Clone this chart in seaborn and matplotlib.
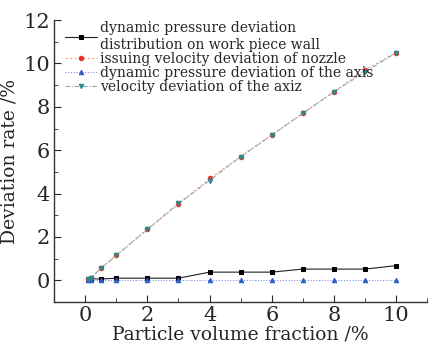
import numpy as np
import pandas as pd
import matplotlib
matplotlib.use('Agg')
import matplotlib.pyplot as plt
import seaborn as sns
from matplotlib.ticker import MultipleLocator

# data
fraction = [0.1, 0.2, 0.5, 1, 2, 3, 4, 5, 6, 7, 8, 9, 10]
wall_pressure = [0.05, 0.08, 0.06, 0.1, 0.1, 0.1, 0.38, 0.38, 0.38, 0.52, 0.52, 0.52, 0.68]
nozzle_velocity = [0.05, 0.12, 0.55, 1.15, 2.35, 3.5, 4.7, 5.7, 6.7, 7.7, 8.7, 9.7, 10.5]
axis_pressure = [0.0] * 13
axis_velocity = [0.05, 0.12, 0.55, 1.15, 2.35, 3.55, 4.6, 5.7, 6.7, 7.7, 8.7, 9.6, 10.5]

labels = ['dynamic pressure deviation\ndistribution on work piece wall',
          'issuing velocity deviation of nozzle',
          'dynamic pressure deviation of the axis',
          'velocity deviation of the axiz']

sns.set_style('ticks')
plt.rcParams['font.family'] = ['DejaVu Serif']

fig = plt.figure(figsize=(4.29, 3.46), dpi=100)
ax = fig.add_axes([0.126, 0.127, 0.87, 0.815])

styles = [
    dict(y=wall_pressure, color='#222222', mc='black', ls='-', marker='s', ms=3, lw=0.8),
    dict(y=nozzle_velocity, color='#f4a080', mc='#e8302a', ls=(0, (2, 2)), marker='o', ms=3.2, lw=0.8),
    dict(y=axis_pressure, color='#8090e0', mc='#2a5fc8', ls=(0, (1, 1.5)), marker='^', ms=3.2, lw=0.8),
    dict(y=axis_velocity, color='#90a8a8', mc='#2a8a8a', ls=(0, (4, 1.5, 1, 1.5)), marker='v', ms=3.2, lw=0.8),
]
for st, lab in zip(styles, labels):
    sns.lineplot(x=fraction, y=st['y'], ax=ax, color=st['color'], linestyle=st['ls'],
                 linewidth=st['lw'], marker=st['marker'], markersize=st['ms'],
                 markerfacecolor=st['mc'], markeredgecolor=st['mc'], label=lab)

ax.set_xlim(-1, 11)
ax.set_ylim(-1, 12)
ax.xaxis.set_major_locator(MultipleLocator(2))
ax.yaxis.set_major_locator(MultipleLocator(2))
ax.yaxis.set_minor_locator(MultipleLocator(1))
ax.xaxis.set_minor_locator(MultipleLocator(1))
ax.tick_params(direction='in', which='both', labelsize=15, length=5, pad=3)
ax.tick_params(which='minor', length=3)
for s in ['top', 'right']:
    ax.spines[s].set_visible(False)
for s in ['left', 'bottom']:
    ax.spines[s].set_linewidth(1.0)
    ax.spines[s].set_color('#333333')

ax.set_xlabel('Particle volume fraction /%', fontsize=13.5, labelpad=0)
ax.set_ylabel('Deviation rate /%', fontsize=13.5, labelpad=3)

leg = ax.legend(loc='upper left', frameon=False, fontsize=10, handlelength=2.3,
                handletextpad=0.2, borderaxespad=0.0, labelspacing=0.0,
                bbox_to_anchor=(0.015, 1.015))

fig.savefig('out.png', dpi=100)
